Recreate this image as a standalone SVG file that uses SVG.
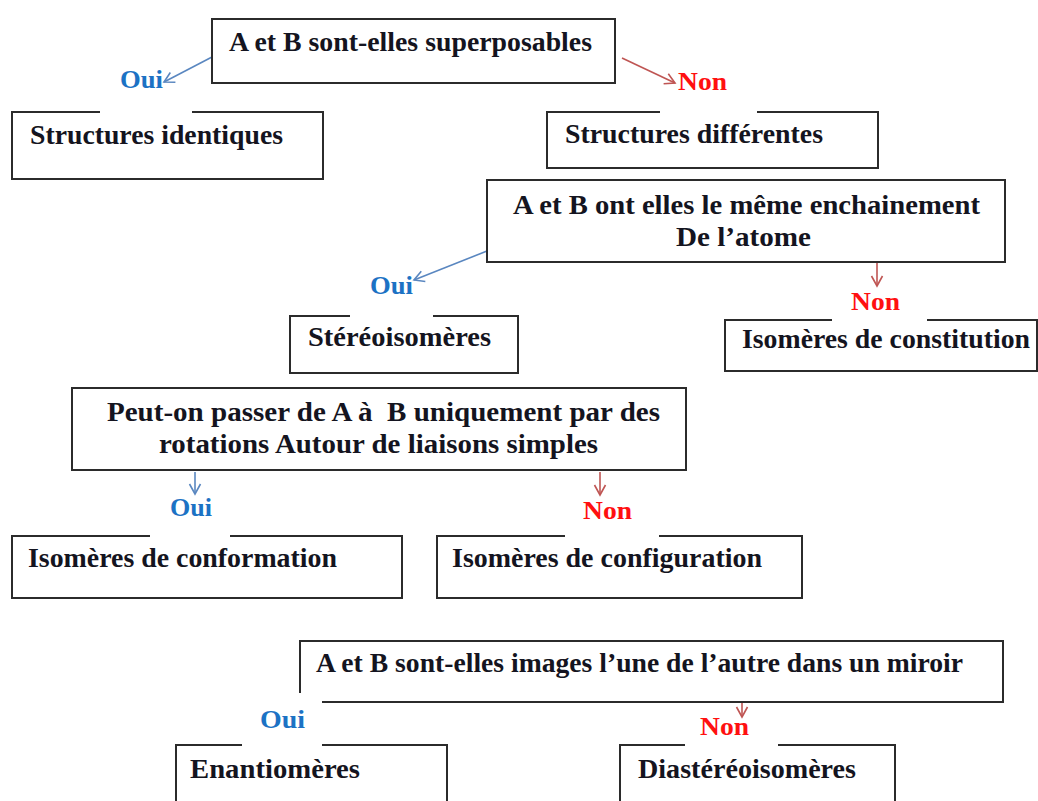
<svg xmlns="http://www.w3.org/2000/svg" width="1038" height="801" viewBox="0 0 1038 801">
  <defs>
    <style>
      .box { fill: none; stroke: #2b2b2b; stroke-width: 2; }
      .t { font-family: "Liberation Serif", "Times New Roman", serif; font-weight: bold; font-size: 27px; fill: #141420; white-space: pre; }
      .oui { font-family: "Liberation Serif", "Times New Roman", serif; font-weight: bold; font-size: 26px; fill: #1c72c4; }
      .non { font-family: "Liberation Serif", "Times New Roman", serif; font-weight: bold; font-size: 26px; fill: #ff1010; }
      .ab { fill: none; stroke: #5a87c0; stroke-width: 1.6; }
      .ar { fill: none; stroke: #bf5553; stroke-width: 1.6; }
    </style>
    <marker id="hb" markerWidth="14" markerHeight="14" refX="11" refY="7" orient="auto" markerUnits="userSpaceOnUse">
      <path d="M1,1.5 L11,7 L1,12.5" fill="none" stroke="#5a87c0" stroke-width="1.6"/>
    </marker>
    <marker id="hr" markerWidth="14" markerHeight="14" refX="11" refY="7" orient="auto" markerUnits="userSpaceOnUse">
      <path d="M1,1.5 L11,7 L1,12.5" fill="none" stroke="#bf5553" stroke-width="1.6"/>
    </marker>
  </defs>
  <rect width="1038" height="801" fill="#ffffff"/>

  <!-- connectors -->
  <g id="connectors">
    <line class="ab" x1="212" y1="57" x2="164" y2="82" marker-end="url(#hb)"/>
    <line class="ar" x1="622" y1="58" x2="675" y2="83" marker-end="url(#hr)"/>
    <line class="ab" x1="487" y1="251" x2="414" y2="280" marker-end="url(#hb)"/>
    <line class="ar" x1="877" y1="263" x2="877" y2="286" marker-end="url(#hr)"/>
    <line class="ab" x1="195" y1="472" x2="195" y2="494" marker-end="url(#hb)"/>
    <line class="ar" x1="600" y1="472" x2="600" y2="495" marker-end="url(#hr)"/>
    <line class="ar" x1="742" y1="703" x2="742" y2="717" marker-end="url(#hr)"/>
  </g>

  <!-- branch labels -->
  <g id="labels">
    <text class="oui" x="120" y="88" textLength="43" lengthAdjust="spacingAndGlyphs">Oui</text>
    <text class="non" x="678" y="90" textLength="49" lengthAdjust="spacingAndGlyphs">Non</text>
    <text class="oui" x="370" y="294" textLength="43" lengthAdjust="spacingAndGlyphs">Oui</text>
    <text class="non" x="851" y="310" textLength="49" lengthAdjust="spacingAndGlyphs">Non</text>
    <text class="oui" x="170" y="516" textLength="42" lengthAdjust="spacingAndGlyphs">Oui</text>
    <text class="non" x="583" y="519" textLength="49" lengthAdjust="spacingAndGlyphs">Non</text>
    <text class="oui" x="260" y="728" textLength="45" lengthAdjust="spacingAndGlyphs">Oui</text>
    <text class="non" x="700" y="735" textLength="49" lengthAdjust="spacingAndGlyphs">Non</text>
  </g>

  <!-- question: superposables -->
  <g id="q-superposables">
    <rect class="box" x="212" y="19" width="403" height="64"/>
    <text class="t" x="229" y="51" textLength="363" lengthAdjust="spacingAndGlyphs">A et B sont-elles superposables</text>
  </g>

  <g id="structures-identiques">
    <path class="box" d="M100,112 H12 V179 H323 V112 H192"/>
    <text class="t" x="30" y="144" textLength="253" lengthAdjust="spacingAndGlyphs">Structures identiques</text>
  </g>

  <g id="structures-differentes">
    <path class="box" d="M660,112 H547 V168 H878 V112 H757"/>
    <text class="t" x="565" y="143" textLength="258" lengthAdjust="spacingAndGlyphs">Structures différentes</text>
  </g>

  <!-- question: enchainement -->
  <g id="q-enchainement">
    <rect class="box" x="487" y="180" width="518" height="82"/>
    <text class="t" x="513" y="214" textLength="467" lengthAdjust="spacingAndGlyphs">A et B ont elles le même enchainement</text>
    <text class="t" x="676" y="246" textLength="135" lengthAdjust="spacingAndGlyphs">De l’atome</text>
  </g>

  <g id="stereoisomeres">
    <path class="box" d="M350,316 H290 V373 H518 V316 H433"/>
    <text class="t" x="308" y="346" textLength="183" lengthAdjust="spacingAndGlyphs">Stéréoisomères</text>
  </g>

  <g id="isomeres-constitution">
    <path class="box" d="M832,320 H725 V371 H1037 V320 H927"/>
    <text class="t" x="742" y="348" textLength="288" lengthAdjust="spacingAndGlyphs">Isomères de constitution</text>
  </g>

  <!-- question: rotations -->
  <g id="q-rotations">
    <rect class="box" x="72" y="388" width="614" height="82"/>
    <text class="t" x="107" y="421" textLength="553" lengthAdjust="spacingAndGlyphs">Peut-on passer de A à  B uniquement par des</text>
    <text class="t" x="159" y="453" textLength="439" lengthAdjust="spacingAndGlyphs">rotations Autour de liaisons simples</text>
  </g>

  <g id="isomeres-conformation">
    <path class="box" d="M150,536 H12 V598 H402 V536 H230"/>
    <text class="t" x="28" y="567" textLength="309" lengthAdjust="spacingAndGlyphs">Isomères de conformation</text>
  </g>

  <g id="isomeres-configuration">
    <path class="box" d="M565,536 H437 V598 H802 V536 H659"/>
    <text class="t" x="452" y="567" textLength="310" lengthAdjust="spacingAndGlyphs">Isomères de configuration</text>
  </g>

  <!-- question: miroir -->
  <g id="q-miroir">
    <path class="box" d="M300,693 V641 H1003 V702 H322"/>
    <text class="t" x="316" y="672" textLength="647" lengthAdjust="spacingAndGlyphs">A et B sont-elles images l’une de l’autre dans un miroir</text>
  </g>

  <g id="enantiomeres">
    <path class="box" d="M242,745 H176 V805 M447,805 V745 H322"/>
    <text class="t" x="190" y="778" textLength="170" lengthAdjust="spacingAndGlyphs">Enantiomères</text>
  </g>

  <g id="diastereoisomeres">
    <path class="box" d="M685,745 H620 V805 M895,805 V745 H778"/>
    <text class="t" x="638" y="778" textLength="218" lengthAdjust="spacingAndGlyphs">Diastéréoisomères</text>
  </g>
</svg>
